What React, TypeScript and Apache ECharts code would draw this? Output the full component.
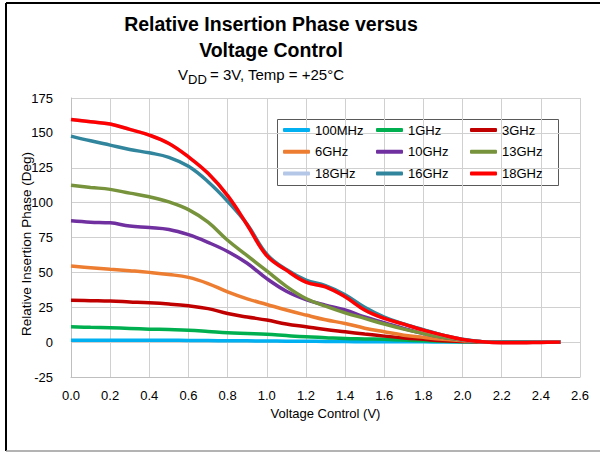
import React, { useEffect, useRef } from "react";
import * as echarts from "echarts";

const volts = [0, 0.1, 0.2, 0.3, 0.4, 0.5, 0.6, 0.7, 0.8, 0.9, 1.0, 1.1, 1.2, 1.3, 1.4, 1.5, 1.6, 1.7, 1.8, 1.9, 2.0, 2.1, 2.2, 2.3, 2.4, 2.5];

const s100MHz = [1.4, 1.4, 1.4, 1.4, 1.3, 1.3, 1.2, 1.1, 1.0, 0.9, 0.8, 0.7, 0.6, 0.5, 0.4, 0.3, 0.3, 0.2, 0.2, 0.1, 0.1, 0, 0, 0, 0, 0];
const s1GHz = [11, 10.6, 10.3, 9.8, 9.3, 9, 8.6, 7.7, 6.7, 6.2, 5.7, 4.7, 3.8, 3.2, 2.6, 2.3, 2, 1.5, 1, 0.6, 0.3, 0.1, 0, 0, 0, 0];
const s3GHz = [30, 29.7, 29.4, 28.8, 28.2, 27.3, 26, 24, 20.5, 18, 15.8, 13, 11, 9, 7.4, 5.8, 4.3, 3, 2, 1, 0.5, 0.1, 0, 0, 0, 0];
const s6GHz = [54.5, 53.4, 52.3, 51.2, 50, 48.5, 46.4, 42, 36, 31, 27, 23, 19.4, 16, 13.4, 10, 7.4, 5, 3.4, 2, 1, 0.2, 0, 0, 0, 0];
const s10GHz = [87, 86, 85.5, 83.2, 82.2, 80.8, 77, 71.5, 65, 56.5, 45.5, 36.5, 30.5, 26.5, 23, 18, 14, 9.8, 6.2, 3.4, 1.5, 0.2, 0, 0, 0, 0];
const s13GHz = [112.5, 110.9, 109.5, 106.8, 104.2, 100.5, 95, 86, 73, 62, 51, 40, 31.3, 25.8, 21, 17, 13, 9.3, 6.2, 3.4, 1.5, 0.2, 0, 0, 0, 0];
const s18GHzLight = [159.6, 158, 156.3, 152.5, 148.4, 142.4, 132.8, 121, 105, 84, 62, 51.6, 43, 39.6, 32.5, 23, 17, 12.9, 8.6, 5, 1.9, 0.2, -0.5, -0.5, -0.2, 0];
const s16GHz = [147.7, 144.3, 141.2, 138.1, 135.7, 132.5, 126, 115, 101, 84.5, 63, 52, 44.5, 40.5, 34, 25, 18, 13, 9, 5, 2, 0.3, 0, 0, 0, 0];
const s18GHz = [159.6, 158, 156.3, 152.5, 148.4, 142.4, 132.8, 121, 105, 84, 62, 51.6, 43, 39.6, 32.5, 23, 17, 12.9, 8.6, 5, 1.9, 0.2, -0.5, -0.5, -0.2, 0];

const seriesNames = ["100MHz", "1GHz", "3GHz", "6GHz", "10GHz", "13GHz", "18GHz#a", "16GHz", "18GHz#b"];
const seriesColors = ["#00B0F0", "#00B050", "#C00000", "#ED7D31", "#7030A0", "#77933C", "#B4C7E7", "#31859C", "#FF0000"];
const seriesData = [s100MHz, s1GHz, s3GHz, s6GHz, s10GHz, s13GHz, s18GHzLight, s16GHz, s18GHz];

const FONT = "'Liberation Sans', Arial, sans-serif";

export default function App() {
  const ref = useRef<HTMLDivElement>(null);
  useEffect(() => {
    if (!ref.current) return;
    const chart = echarts.init(ref.current, undefined, { renderer: "svg" });
    const series = seriesNames.map((name, i) => ({
      name,
      type: "line",
      smooth: 0.4,
      symbol: "none",
      data: volts.map((v, j) => [v, seriesData[i][j]]),
      lineStyle: { color: seriesColors[i], width: 3.5 },
      itemStyle: { color: seriesColors[i] },
    }));
    const legendCommon = {
      orient: "vertical",
      top: 123,
      icon: "roundRect",
      itemWidth: 27,
      itemHeight: 4,
      itemGap: 7.7,
      padding: 0,
      textStyle: { fontFamily: FONT, fontSize: 13, color: "#000", lineHeight: 14 },
      formatter: (n: string) => n.split("#")[0],
    };
    chart.setOption({
      animation: false,
      backgroundColor: "#fff",
      title: {
        text: "Relative Insertion Phase versus\nVoltage Control",
        left: 266,
        textAlign: "center",
        top: 6,
        textStyle: { fontFamily: FONT, fontSize: 19.5, fontWeight: "bold", color: "#000", lineHeight: 26 },
      },
      grid: { left: 71, right: 20, top: 98, bottom: 76 },
      xAxis: {
        type: "value",
        min: 0,
        max: 2.6,
        interval: 0.2,
        name: "Voltage Control (V)",
        nameLocation: "middle",
        nameGap: 30,
        nameTextStyle: { fontFamily: FONT, fontSize: 13, color: "#000" },
        axisLine: { show: true, onZero: false, lineStyle: { color: "#BFBFBF" } },
        axisTick: { show: false },
        axisLabel: { fontFamily: FONT, fontSize: 13, color: "#000", margin: 12, formatter: (v: number) => v.toFixed(1) },
        splitLine: { show: true, lineStyle: { color: "#D0D0D0", width: 1 } },
      },
      yAxis: {
        type: "value",
        min: -25,
        max: 175,
        interval: 25,
        axisLine: { show: true, lineStyle: { color: "#BFBFBF" } },
        axisTick: { show: false },
        axisLabel: { fontFamily: FONT, fontSize: 13, color: "#000", margin: 18 },
        splitLine: { show: true, lineStyle: { color: "#D0D0D0", width: 1 } },
      },
      legend: [
        { ...legendCommon, left: 283, data: ["100MHz", "6GHz", "18GHz#a"] },
        { ...legendCommon, left: 376, data: ["1GHz", "10GHz", "16GHz"] },
        { ...legendCommon, left: 470, data: ["3GHz", "13GHz", "18GHz#b"] },
      ],
      graphic: [
        { type: "rect", shape: { x: 277.5, y: 119.5, width: 281, height: 66 }, style: { fill: "#fff", stroke: "#595959", lineWidth: 1 }, z: 0, zlevel: 0 },
        { type: "line", shape: { x1: 6, y1: 3, x2: 600, y2: 3 }, style: { stroke: "#000", lineWidth: 2 } },
        { type: "line", shape: { x1: 6, y1: 3, x2: 6, y2: 451 }, style: { stroke: "#000", lineWidth: 2 } },
        { type: "line", shape: { x1: 6, y1: 451, x2: 600, y2: 451 }, style: { stroke: "#9A9A9A", lineWidth: 1.5 } },
        { type: "text", x: 178, y: 67, style: { text: "V", fontFamily: FONT, fontSize: 15, fill: "#000" } },
        { type: "text", x: 188, y: 73, style: { text: "DD", fontFamily: FONT, fontSize: 13, fill: "#000" } },
        { type: "text", x: 210, y: 67, style: { text: "= 3V, Temp = +25°C", fontFamily: FONT, fontSize: 15, fill: "#000" } },
        {
          type: "text",
          x: 26.5,
          y: 244,
          rotation: Math.PI / 2,
          style: { text: "Relative Insertion Phase (Deg)", fontFamily: FONT, fontSize: 13.5, fill: "#000", align: "center", verticalAlign: "middle" },
        },
      ],
      series,
    });
    return () => chart.dispose();
  }, []);
  return <div ref={ref} style={{ position: "fixed", left: 0, top: 0, width: 600, height: 453 }} />;
}
